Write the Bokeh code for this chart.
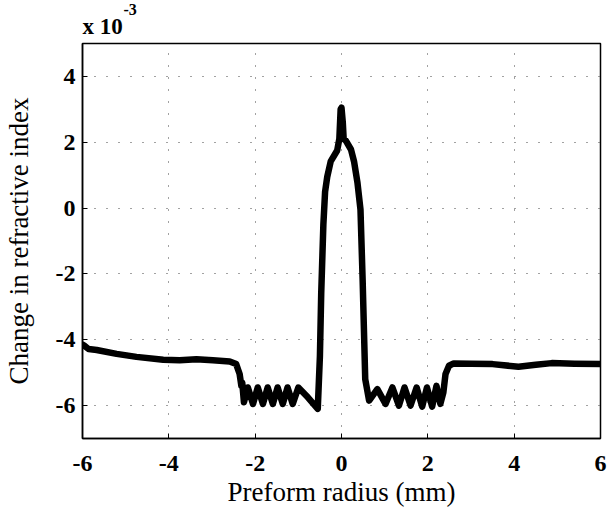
from bokeh.plotting import figure
from bokeh.models import Range1d, FixedTicker, Title
from bokeh.embed import file_html
from bokeh.resources import INLINE

# Preform radius (mm)
radius_mm = [
    -6.00, -5.96, -5.86, -5.67, -5.21, -4.75, -4.13, -3.75, -3.36, -2.98, -2.59,
    -2.44, -2.36, -2.32, -2.30, -2.26,
    -2.17, -2.05, -1.94, -1.82, -1.71, -1.59, -1.48, -1.36, -1.25, -1.13,
    -1.00, -0.78, -0.55,
    -0.50, -0.47, -0.42, -0.38, -0.33, -0.25, -0.10, -0.05, -0.02, 0.00,
    0.03, 0.05, 0.10, 0.22, 0.29, 0.37, 0.44, 0.49, 0.55, 0.64,
    0.83, 1.02, 1.18, 1.33, 1.46, 1.60, 1.74, 1.87, 1.98, 2.10, 2.20, 2.29,
    2.36, 2.41, 2.49, 2.60, 3.00, 3.50, 4.10, 4.50, 4.87, 5.40, 6.00,
]
# Change in refractive index (x 10^-3)
delta_n = [
    -4.15, -4.18, -4.28, -4.31, -4.43, -4.52, -4.61, -4.62, -4.59, -4.62, -4.66,
    -4.74, -5.04, -5.40, -5.30, -5.90,
    -5.45, -5.95, -5.45, -5.95, -5.45, -5.95, -5.45, -5.95, -5.45, -5.95,
    -5.45, -5.75, -6.10,
    -4.50, -2.60, -0.50, 0.50, 0.95, 1.42, 1.75, 2.10, 3.00, 3.05,
    2.60, 2.10, 2.05, 1.78, 1.42, 0.77, -0.05, -2.20, -5.20, -5.85,
    -5.50, -5.95, -5.45, -6.00, -5.45, -6.00, -5.45, -6.03, -5.45, -6.03, -5.40, -5.95,
    -5.60, -5.04, -4.79, -4.72, -4.73, -4.74, -4.82, -4.76, -4.71, -4.73, -4.74,
]

x_ticks = [-6, -4, -2, 0, 2, 4, 6]
y_ticks = [-6, -4, -2, 0, 2, 4]

FONT = "Liberation Serif"

p = figure(width=608, height=509, output_backend="svg", toolbar_location=None,
           x_range=Range1d(-6, 6), y_range=Range1d(-7, 5),
           min_border_left=79, min_border_right=8, min_border_top=43,
           min_border_bottom=70)
p.background_fill_color = "white"
p.border_fill_color = "white"
p.outline_line_color = "black"
p.outline_line_width = 1.5
p.outline_line_alpha = 1.0

p.line(radius_mm, delta_n, line_color="black", line_width=6.5,
       line_join="round", line_cap="round")

for ax, ticks in ((p.xaxis[0], x_ticks), (p.yaxis[0], y_ticks)):
    ax.ticker = FixedTicker(ticks=ticks)
    ax.major_label_overrides = {t: str(t) for t in ticks}
    ax.axis_line_color = "black"
    ax.axis_line_width = 1.5
    ax.major_tick_in = 5
    ax.major_tick_out = 0
    ax.major_tick_line_color = "black"
    ax.minor_tick_line_color = None
    ax.major_label_text_font = FONT
    ax.major_label_text_font_size = "24px"
    ax.major_label_text_font_style = "bold"
    ax.major_label_text_color = "black"
    ax.axis_label_text_font = FONT
    ax.axis_label_text_font_size = "27px"
    ax.axis_label_text_font_style = "normal"
    ax.axis_label_text_color = "black"

p.xaxis.axis_label = "Preform radius (mm)"
p.yaxis.axis_label = "Change in refractive index"
p.xaxis.major_label_standoff = 17
p.xaxis.axis_label_standoff = 3
p.xaxis.axis_label_text_line_height = 0.75
p.yaxis.major_label_standoff = 7
p.yaxis.axis_label_standoff = 19

p.xgrid[0].ticker = p.xaxis[0].ticker
p.ygrid[0].ticker = p.yaxis[0].ticker
for g in (p.xgrid[0], p.ygrid[0]):
    g.grid_line_color = "#444444"
    g.grid_line_width = 1
    g.grid_line_dash = "1 11"

# superscript exponent (outermost title)
p.title.text = "-3"
p.title.align = "left"
p.title.offset = 41
p.title.standoff = -17
p.title.text_font = FONT
p.title.text_font_size = "16px"
p.title.text_font_style = "bold"
p.title.text_color = "black"

# base of the multiplier (closest to the frame)
p.add_layout(Title(text="x 10", align="left", offset=0, standoff=10,
                   text_font=FONT, text_font_size="23px", text_font_style="bold",
                   text_color="black"), "above")

open("out.html", "w").write(file_html(p, INLINE))
